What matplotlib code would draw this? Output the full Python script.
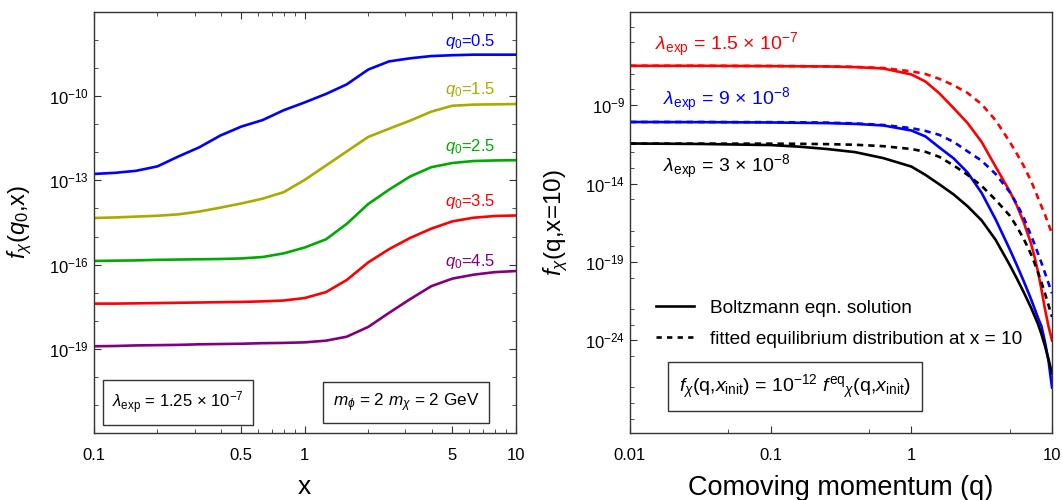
import numpy as np
import matplotlib
matplotlib.use("Agg")
import matplotlib.pyplot as plt
from matplotlib.lines import Line2D
from matplotlib.ticker import NullFormatter

plt.rcParams["font.family"] = ["Liberation Sans", "DejaVu Sans"]
plt.rcParams["mathtext.fontset"] = "custom"
plt.rcParams["mathtext.rm"] = "Liberation Sans"
plt.rcParams["mathtext.it"] = "Liberation Sans:italic"
plt.rcParams["mathtext.bf"] = "Liberation Sans:bold"

x_left = [0.1, 0.126, 0.158, 0.2, 0.251, 0.316, 0.398, 0.501, 0.631, 0.794,
          1.0, 1.26, 1.58, 2.0, 2.51, 3.16, 3.98, 5.01, 6.31, 7.94, 10.0]
lg_q05 = [-12.77, -12.73, -12.66, -12.50, -12.15, -11.82, -11.40, -11.08,
          -10.85, -10.50, -10.22, -9.92, -9.58, -9.05, -8.76, -8.65, -8.57,
          -8.54, -8.52, -8.52, -8.52]
lg_q15 = [-14.34, -14.32, -14.29, -14.26, -14.21, -14.11, -13.97, -13.82,
          -13.65, -13.42, -12.98, -12.47, -11.97, -11.45, -11.16, -10.87,
          -10.55, -10.34, -10.30, -10.29, -10.28]
lg_q25 = [-15.87, -15.86, -15.85, -15.83, -15.82, -15.81, -15.80, -15.78,
          -15.73, -15.60, -15.39, -15.10, -14.55, -13.84, -13.33, -12.86,
          -12.53, -12.38, -12.31, -12.29, -12.28]
lg_q35 = [-17.39, -17.39, -17.38, -17.37, -17.36, -17.35, -17.34, -17.33,
          -17.31, -17.28, -17.19, -16.98, -16.55, -15.92, -15.45, -15.05,
          -14.72, -14.46, -14.33, -14.27, -14.25]
lg_q45 = [-18.91, -18.90, -18.88, -18.87, -18.86, -18.84, -18.83, -18.82,
          -18.80, -18.79, -18.77, -18.71, -18.57, -18.22, -17.72, -17.23,
          -16.77, -16.50, -16.36, -16.27, -16.23]

q0_labels = ["0.5", "1.5", "2.5", "3.5", "4.5"]
q0_colors = ["#0000ff", "#aaaa00", "#00aa00", "#ff0000", "#800080"]
q0_label_lg = [-8.04, -9.76, -11.78, -13.74, -15.88]

# ---- right panel: f_chi(q, x=10) against comoving momentum q
q_right = [0.01, 0.0316, 0.1, 0.158, 0.251, 0.398, 0.631, 1.0, 1.26, 1.58,
           2.0, 2.51, 3.16, 3.98, 5.01, 5.62, 6.31, 7.08, 7.5, 7.94, 8.41,
           8.91, 9.44, 10.0]
lg_red_sol = [-6.50, -6.50, -6.52, -6.53, -6.54, -6.58, -6.67, -7.05, -7.50,
              -8.25, -9.20, -10.15, -11.35, -12.94, -14.50, -15.40, -16.50,
              -17.80, -18.65, -19.60, -20.75, -22.00, -23.10, -24.00]
lg_red_fit = [-6.50, -6.50, -6.51, -6.52, -6.54, -6.57, -6.64, -6.85, -7.02,
              -7.33, -7.74, -8.23, -8.95, -9.98, -11.35, -12.10, -12.90,
              -13.82, -14.35, -14.90, -15.45, -15.98, -16.60, -17.20]
lg_blue_sol = [-10.08, -10.09, -10.11, -10.13, -10.15, -10.20, -10.30,
               -10.62, -11.00, -11.70, -12.40, -13.30, -14.60, -16.30,
               -18.20, -19.20, -20.25, -21.35, -21.95, -22.55, -23.10,
               -24.10, -25.30, -27.00]
lg_blue_fit = [-10.08, -10.08, -10.09, -10.10, -10.12, -10.17, -10.27,
               -10.47, -10.65, -10.90, -11.35, -11.95, -12.55, -13.40,
               -14.55, -15.30, -16.20, -17.30, -17.85, -18.45, -19.05,
               -19.70, -20.35, -21.00]
lg_blk_sol = [-11.45, -11.48, -11.55, -11.65, -11.80, -12.00, -12.38, -12.92,
              -13.45, -14.05, -14.70, -15.45, -16.35, -17.60, -19.20, -20.05,
              -20.95, -21.90, -22.42, -22.95, -23.60, -24.35, -25.20, -26.10]
lg_blk_fit = [-11.46, -11.46, -11.46, -11.47, -11.49, -11.53, -11.62, -11.80,
              -11.98, -12.30, -12.85, -13.45, -14.15, -15.05, -16.05, -16.75,
              -17.55, -18.50, -19.05, -19.65, -20.30, -21.00, -21.75, -22.50]

lam_labels = [r"$\lambda_{\mathrm{exp}}$ = 1.5 × 10$^{-7}$",
              r"$\lambda_{\mathrm{exp}}$ = 9 × 10$^{-8}$",
              r"$\lambda_{\mathrm{exp}}$ = 3 × 10$^{-8}$"]
lam_colors = ["#ff0000", "#0000ff", "black"]
lam_pos = [(0.059, 0.922), (0.078, 0.791), (0.078, 0.633)]

fig = plt.figure(figsize=(10.62, 5.0), dpi=100)
ax1 = fig.add_axes([0.0885, 0.134, 0.397, 0.842])
ax2 = fig.add_axes([0.5932, 0.134, 0.3974, 0.842])

LW = 1.9
box = dict(boxstyle="square,pad=0.55", fc="white", ec="#333333", lw=1.0)

left_series = [lg_q05, lg_q15, lg_q25, lg_q35, lg_q45]
for lg, col, lab, ylab in zip(left_series, q0_colors, q0_labels, q0_label_lg):
    ax1.plot(x_left, 10.0 ** np.array(lg), color=col, lw=LW)
    ax1.text(6.1, 10.0 ** ylab, r"$q_0$=" + lab, color=col, fontsize=12,
             ha="center", va="center")

ax1.set_xscale("log")
ax1.set_yscale("log")
ax1.set_xlim(0.1, 10)
ax1.set_ylim(1e-22, 1e-7)
ax1.set_xticks([0.1, 0.5, 1, 5, 10])
ax1.set_xticklabels(["0.1", "0.5", "1", "5", "10"])
ax1.set_xticks([0.2, 0.3, 0.4, 0.6, 0.7, 0.8, 0.9, 2, 3, 4, 6, 7, 8, 9],
               minor=True)
ax1.set_yticks([1e-10, 1e-13, 1e-16, 1e-19])
ax1.set_yticklabels([r"$10^{-10}$", r"$10^{-13}$", r"$10^{-16}$",
                     r"$10^{-19}$"])
ax1.set_yticks([10.0 ** k for k in range(-21, -7)
                if k not in (-10, -13, -16, -19)], minor=True)
ax1.yaxis.set_minor_formatter(NullFormatter())
ax1.xaxis.set_minor_formatter(NullFormatter())
ax1.tick_params(which="both", direction="in", top=True, right=True,
                labelsize=12, color="#333333")
ax1.tick_params(axis="x", which="both", pad=11)
ax1.tick_params(which="major", length=5)
ax1.tick_params(which="minor", length=3)
ax1.set_xlabel("x", fontsize=19)
ax1.xaxis.set_label_coords(0.5, -0.10)
ax1.set_ylabel(r"$f_{\chi}$($q_0$,x)", fontsize=17)
ax1.yaxis.set_label_coords(-0.142, 0.5)

ax1.text(0.2, 0.072, r"$\lambda_{\mathrm{exp}}$ = 1.25 × 10$^{-7}$",
         transform=ax1.transAxes, fontsize=12, ha="center", va="center",
         bbox=box)
ax1.text(0.74, 0.072, r"$m_\phi$ = 2 $m_\chi$ = 2 GeV",
         transform=ax1.transAxes, fontsize=12.3, ha="center", va="center",
         bbox=box)

right_series = [(lg_red_sol, lg_red_fit), (lg_blue_sol, lg_blue_fit),
                (lg_blk_sol, lg_blk_fit)]
for (sol, fit), col in zip(right_series, lam_colors):
    ax2.plot(q_right, 10.0 ** np.array(sol), color=col, lw=LW)
    ax2.plot(q_right, 10.0 ** np.array(fit), color=col, lw=LW,
             dashes=(2.4, 1.9))

for lab, col, (px, py) in zip(lam_labels, lam_colors, lam_pos):
    ax2.text(px, py, lab, color=col, transform=ax2.transAxes, fontsize=14,
             va="center")

ax2.set_xscale("log")
ax2.set_yscale("log")
ax2.set_xlim(0.01, 10)
ax2.set_ylim(10 ** -29.9, 10 ** -3.07)
ax2.set_xticks([0.01, 0.1, 1, 10])
ax2.set_xticklabels(["0.01", "0.1", "1", "10"])
ax2.set_xticks([0.05, 0.5, 5], minor=True)
ax2.set_yticks([1e-9, 1e-14, 1e-19, 1e-24])
ax2.set_yticklabels([r"$10^{-9}$", r"$10^{-14}$", r"$10^{-19}$",
                     r"$10^{-24}$"])
minor_right = [-4, -5, -7, -8, -10, -12, -13, -15, -17, -18, -20, -22, -23,
               -25, -27, -28, -29]
ax2.set_yticks([10.0 ** k for k in minor_right], minor=True)
ax2.yaxis.set_minor_formatter(NullFormatter())
ax2.xaxis.set_minor_formatter(NullFormatter())
ax2.tick_params(which="both", direction="in", labelsize=12, color="#333333")
ax2.tick_params(axis="x", which="both", pad=11)
ax2.tick_params(which="major", length=5)
ax2.tick_params(which="minor", length=3)
ax2.set_xlabel("Comoving momentum (q)", fontsize=19.5)
ax2.xaxis.set_label_coords(0.5, -0.10)
ax2.set_ylabel(r"$f_{\chi}$(q,x=10)", fontsize=17.5)
ax2.yaxis.set_label_coords(-0.142, 0.5)

handles = [Line2D([], [], color="black", lw=LW),
           Line2D([], [], color="black", lw=LW, dashes=(2.0, 2.0))]
ax2.legend(handles, ["Boltzmann eqn. solution",
                     "fitted equilibrium distribution at x = 10"],
           loc="center left", bbox_to_anchor=(0.02, 0.26), frameon=False,
           fontsize=13.7, handlelength=2.0, handletextpad=0.85,
           labelspacing=0.7)

ax2.text(0.391, 0.11,
         r"$f_{\chi}$(q,$x_{\mathrm{init}}$) = 10$^{-12}$ "
         r"$f^{\mathrm{eq}}{}_{\chi}$(q,$x_{\mathrm{init}}$)",
         transform=ax2.transAxes, fontsize=14, ha="center", va="center",
         bbox=box)

for ax in (ax1, ax2):
    for sp in ax.spines.values():
        sp.set_color("#333333")
        sp.set_linewidth(1.0)

fig.savefig("out.png", dpi=100)
